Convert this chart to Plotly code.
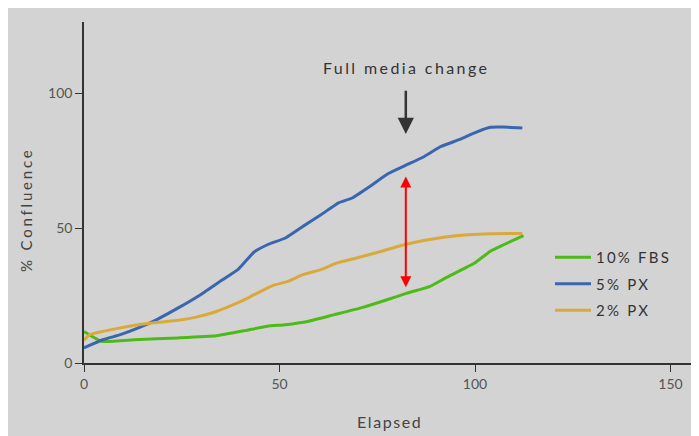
import plotly.graph_objects as go

# ---- data ----
fbs10_x = [0, 4.6, 12.8, 24.1, 33.8, 41.2, 46.9, 51.5, 57.2, 64.0, 70.8, 77.7, 82.2, 88.5, 92.5, 99.9, 103.9, 107.3, 112.4]
fbs10_y = [11.7, 8.0, 8.6, 9.3, 10.1, 12.0, 13.6, 14.2, 15.4, 17.9, 20.4, 23.5, 25.7, 28.4, 31.5, 37.0, 41.4, 43.8, 47.2]

px5_x = [0, 4.8, 9.3, 13.9, 18.5, 24.1, 29.8, 35.5, 39.5, 43.5, 46.9, 51.5, 56.0, 60.6, 65.1, 68.6, 73.1, 77.7, 82.2, 86.8, 91.3, 95.9, 100.5, 103.9, 107.3, 112.1]
px5_y = [5.6, 8.6, 10.5, 13.0, 16.0, 20.4, 25.3, 30.9, 34.8, 41.1, 43.8, 46.3, 50.6, 54.9, 59.3, 61.1, 65.4, 70.1, 73.2, 76.3, 80.2, 82.7, 85.6, 87.3, 87.4, 87.0]

px2_x = [0, 1.4, 4.8, 9.3, 16.2, 24.1, 28.7, 33.3, 36.7, 40.1, 43.5, 48.1, 52.1, 56.0, 60.6, 64.6, 69.7, 75.4, 81.1, 86.8, 92.5, 98.2, 103.9, 112.1]
px2_y = [8.4, 10.5, 11.7, 13.0, 14.6, 15.8, 17.0, 18.8, 20.7, 22.8, 25.3, 28.6, 30.2, 32.7, 34.6, 37.0, 38.9, 41.1, 43.5, 45.4, 46.7, 47.5, 47.9, 48.0]

series_names = ["10% FBS", "5% PX", "2% PX"]
x_ticks = [0, 50, 100, 150]
y_ticks = [0, 50, 100]
change_x = 82.3
change_arrow = [101.4, 84.8]
gap_arrow = [69.6, 28.1]

# ---- style ----
BG = "#d3d3d3"
colors = ["#4cbb17", "#3a66b0", "#d9aa3a"]
FONT = "Lato"

def spaced(t, s=1.5):
    return f'<span style="letter-spacing:{s}px">{t}</span>'

fig = go.Figure()
for i, (xs, ys) in enumerate([(fbs10_x, fbs10_y), (px5_x, px5_y), (px2_x, px2_y)]):
    fig.add_trace(go.Scatter(
        x=xs, y=ys, mode="lines", name=spaced(series_names[i], 2.2),
        legendgroup=f"g{i}",
        line=dict(color=colors[i], width=3, shape="spline", smoothing=0.4),
    ))

# page offset caused by the browser's default body margin
OFF = 8
W, H = 699 - OFF, 436 - OFF
L, R, T, B = 84 - OFF, 5, 22 - OFF, 73
pw = W - L - R
ph = H - T - B

def px_x(p):  # page pixel -> paper
    return (p - OFF - L) / pw

def px_y(p):
    return (H - B - (p - OFF)) / ph

fig.add_annotation(x=change_x, y=change_arrow[1], ax=change_x, ay=change_arrow[0],
                   xref="x", yref="y", axref="x", ayref="y", text="",
                   showarrow=True, arrowhead=2, arrowsize=1.3, arrowwidth=2.5,
                   arrowcolor="#333333", standoff=0)
fig.add_annotation(x=change_x, y=gap_arrow[1], ax=change_x, ay=gap_arrow[0],
                   xref="x", yref="y", axref="x", ayref="y", text="",
                   showarrow=True, arrowhead=2, startarrowhead=2, arrowside="end+start",
                   arrowsize=1.1, arrowwidth=2, arrowcolor="#ff0000", standoff=0, startstandoff=0)
fig.add_annotation(x=px_x(406), y=px_y(67), xref="paper", yref="paper",
                   text=spaced("Full media change", 2.4), showarrow=False,
                   font=dict(family=FONT, size=16, color="#333333"),
                   xanchor="center", yanchor="middle")
fig.add_annotation(x=px_x(389), y=px_y(421), xref="paper", yref="paper",
                   text=spaced("Elapsed", 1.6), showarrow=False,
                   font=dict(family=FONT, size=16, color="#444444"),
                   xanchor="center", yanchor="middle")
fig.add_annotation(x=px_x(26), y=px_y(210), xref="paper", yref="paper",
                   text=spaced("% Confluence", 2.8), showarrow=False, textangle=-90,
                   font=dict(family=FONT, size=15, color="#444444"),
                   xanchor="center", yanchor="middle")

axis_common = dict(showgrid=False, zeroline=False, showline=True, linecolor="#333333",
                   linewidth=1.5, ticks="outside", ticklen=7, tickwidth=1, tickcolor="#333333",
                   tickfont=dict(family=FONT, size=14, color="#555555"))

fig.update_layout(
    width=W, height=H,
    margin=dict(l=L, r=R, t=T, b=B, pad=0),
    paper_bgcolor=BG, plot_bgcolor=BG,
    xaxis=dict(range=[0, 156], tickvals=x_ticks, **axis_common),
    yaxis=dict(range=[0, 126.3], tickvals=y_ticks, **axis_common),
    legend=dict(x=px_x(550), y=px_y(241), xanchor="left", yanchor="top",
                bgcolor="rgba(0,0,0,0)", traceorder="grouped", tracegroupgap=4,
                itemwidth=36,
                font=dict(family=FONT, size=15, color="#333333")),
    showlegend=True,
)

fig.write_html("out.html")
